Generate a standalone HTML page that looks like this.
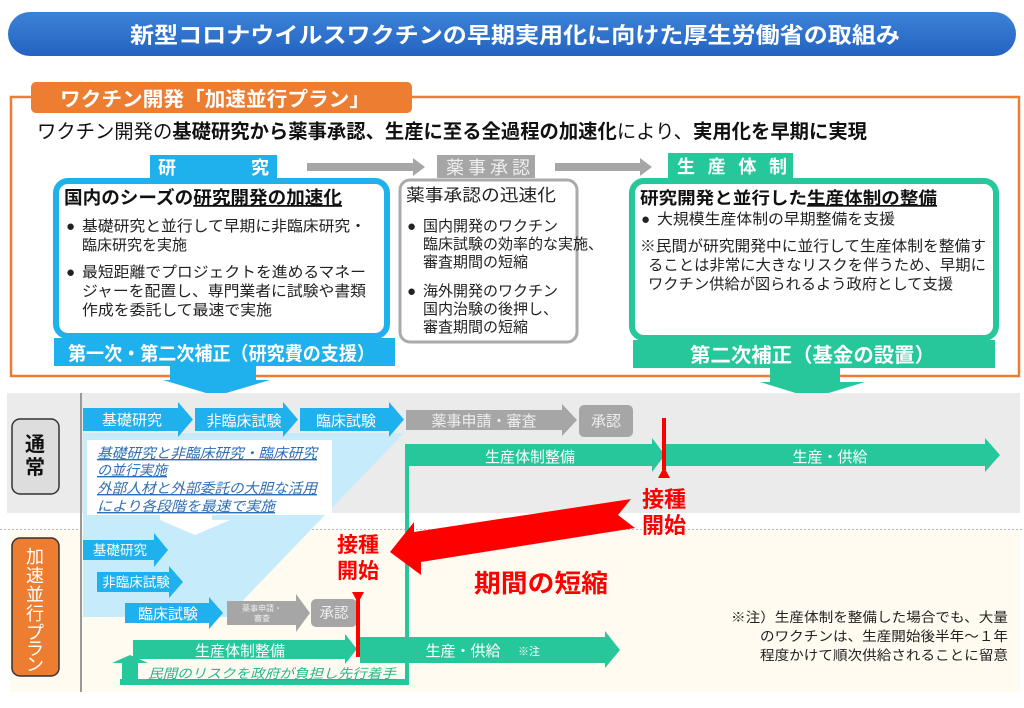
<!DOCTYPE html>
<html><head><meta charset="utf-8"><style>
html,body{margin:0;padding:0;background:#fff;}
svg text{font-family:"Liberation Sans","Noto Sans CJK JP",sans-serif;}
</style></head><body>
<svg width="1024" height="703" viewBox="0 0 1024 703" xmlns="http://www.w3.org/2000/svg">
<defs>
<linearGradient id="tg" x1="0" y1="0" x2="0" y2="1"><stop offset="0" stop-color="#3d82d8"/><stop offset="1" stop-color="#2363c0"/></linearGradient>
</defs>
<rect x="8" y="12" width="1008" height="44" rx="22" fill="url(#tg)"/>
<text x="130" y="43" font-size="22" font-weight="bold" fill="#fff" textLength="770" lengthAdjust="spacingAndGlyphs">新型コロナウイルスワクチンの早期実用化に向けた厚生労働省の取組み</text>

<rect x="11" y="97" width="1008" height="279" fill="none" stroke="#ed7d31" stroke-width="2.5"/>
<rect x="31" y="82" width="381" height="31" rx="5" fill="#ed7d31"/>
<text x="60" y="106" font-size="20" font-weight="bold" fill="#fff" textLength="310" lengthAdjust="spacingAndGlyphs">ワクチン開発「加速並行プラン」</text>
<text x="37" y="138" font-size="19.5" fill="#111" textLength="830" lengthAdjust="spacingAndGlyphs">ワクチン開発の<tspan font-weight="bold">基礎研究から薬事承認、生産に至る全過程の加速化</tspan>により、<tspan font-weight="bold">実用化を早期に実現</tspan></text>

<rect x="150" y="155" width="127" height="23" fill="#1fb0ee"/>
<text x="158" y="174" font-size="18" font-weight="bold" fill="#fff">研</text>
<text x="251" y="174" font-size="18" font-weight="bold" fill="#fff">究</text>
<polygon points="307,163 413,163 413,158 425,167 413,176 413,171 307,171" fill="#a6a6a6"/>
<rect x="437" y="155" width="98" height="23" fill="#a6a6a6"/>
<text x="446" y="174" font-size="18" fill="#eee" textLength="84" lengthAdjust="spacing">薬事承認</text>
<polygon points="555,163 640,163 640,158 652,167 640,176 640,171 555,171" fill="#a6a6a6"/>
<rect x="668" y="153" width="125" height="25" fill="#26c79b"/>
<text x="677" y="173" font-size="18" font-weight="bold" fill="#fff" textLength="110" lengthAdjust="spacing">生産体制</text>

<rect x="56" y="181" width="331" height="155" rx="12" fill="#fff" stroke="#1fb0ee" stroke-width="6"/>
<text x="64" y="204" font-size="18" font-weight="bold" fill="#111" textLength="278" lengthAdjust="spacingAndGlyphs">国内のシーズの<tspan text-decoration="underline">研究開発の加速化</tspan></text>
<g font-size="15" fill="#222">
<text x="66" y="231">●</text>
<text x="82" y="231" textLength="284" lengthAdjust="spacingAndGlyphs">基礎研究と並行して早期に非臨床研究・</text>
<text x="82" y="250">臨床研究を実施</text>
<text x="66" y="277">●</text>
<text x="82" y="277" textLength="284" lengthAdjust="spacingAndGlyphs">最短距離でプロジェクトを進めるマネー</text>
<text x="82" y="296" textLength="284" lengthAdjust="spacingAndGlyphs">ジャーを配置し、専門業者に試験や書類</text>
<text x="82" y="315" textLength="190" lengthAdjust="spacingAndGlyphs">作成を委託して最速で実施</text>
</g>
<rect x="54" y="338" width="341" height="28" fill="#1fb0ee"/>
<text x="68" y="360" font-size="19" font-weight="bold" fill="#fff" textLength="307" lengthAdjust="spacingAndGlyphs">第一次・第二次補正（研究費の支援）</text>
<polygon points="170,366 256,366 256,380 270,380 216,396 163,380 170,380" fill="#1fb0ee"/>

<rect x="400" y="180" width="177" height="162" rx="10" fill="#fff" stroke="#aaa" stroke-width="3"/>
<text x="406" y="201" font-size="17" fill="#222" textLength="150" lengthAdjust="spacingAndGlyphs">薬事承認の迅速化</text>
<g font-size="15" fill="#222">
<text x="407" y="231">●</text>
<text x="423" y="231">国内開発のワクチン</text>
<text x="423" y="249">臨床試験の効率的な実施、</text>
<text x="423" y="267">審査期間の短縮</text>
<text x="407" y="296">●</text>
<text x="423" y="296">海外開発のワクチン</text>
<text x="423" y="314">国内治験の後押し、</text>
<text x="423" y="332">審査期間の短縮</text>
</g>

<rect x="632" y="181" width="364" height="157" rx="12" fill="#fff" stroke="#26c79b" stroke-width="6"/>
<text x="640" y="204" font-size="17" font-weight="bold" fill="#111" textLength="297" lengthAdjust="spacingAndGlyphs">研究開発と並行した<tspan text-decoration="underline">生産体制の整備</tspan></text>
<g font-size="15" fill="#222">
<text x="641" y="224">●</text>
<text x="657" y="224" textLength="238" lengthAdjust="spacingAndGlyphs">大規模生産体制の早期整備を支援</text>
<text x="640" y="251" textLength="346" lengthAdjust="spacingAndGlyphs">※民間が研究開発中に並行して生産体制を整備す</text>
<text x="648" y="270" textLength="338" lengthAdjust="spacingAndGlyphs">ることは非常に大きなリスクを伴うため、早期に</text>
<text x="648" y="289" textLength="305" lengthAdjust="spacingAndGlyphs">ワクチン供給が図られるよう政府として支援</text>
</g>
<rect x="633" y="340" width="362" height="28" fill="#26c79b"/>
<text x="690" y="362" font-size="20" font-weight="bold" fill="#fff" textLength="245" lengthAdjust="spacingAndGlyphs">第二次補正（基金の設置）</text>
<polygon points="770,368 840,368 840,382 865,382 812,398 760,382 770,382" fill="#26c79b"/>

<rect x="7" y="393" width="1013" height="120" fill="#ebebeb"/>
<rect x="10" y="530" width="1010" height="162" fill="#fffbf0"/>
<line x1="0" y1="529.5" x2="1024" y2="529.5" stroke="#bbb" stroke-width="1" stroke-dasharray="2,2"/>
<rect x="80" y="393" width="2" height="299" fill="#999"/>

<rect x="12" y="419" width="47" height="75" rx="8" fill="#ddd" stroke="#333" stroke-width="1.5"/>
<text x="35" y="451" font-size="20" font-weight="bold" fill="#111" text-anchor="middle">通</text>
<text x="35" y="474" font-size="20" font-weight="bold" fill="#111" text-anchor="middle">常</text>
<rect x="12" y="538" width="47" height="138" rx="8" fill="#ed7d31" stroke="#333" stroke-width="1.5"/>
<g font-size="18" fill="#fff" text-anchor="middle">
<text x="35" y="563">加</text><text x="35" y="582">速</text><text x="35" y="601">並</text><text x="35" y="620">行</text>
<text x="35" y="639">プ</text><text x="35" y="655">ラ</text><text x="35" y="671">ン</text>
</g>

<polygon points="83,433 404,433 227,617 83,617" fill="#c6ecfb"/>
<rect x="87" y="440" width="245" height="75" fill="#fff"/>
<polygon points="160,515 212,515 212,520 230,520 195,535 160,520" fill="#fff"/>
<g font-size="14" font-style="italic" fill="#2f6fb5" text-decoration="underline">
<text x="97" y="458" textLength="220" lengthAdjust="spacingAndGlyphs">基礎研究と非臨床研究・臨床研究</text>
<text x="97" y="475">の並行実施</text>
<text x="97" y="493" textLength="220" lengthAdjust="spacingAndGlyphs">外部人材と外部委託の大胆な活用</text>
<text x="97" y="511" textLength="178" lengthAdjust="spacingAndGlyphs">により各段階を最速で実施</text>
</g>

<g fill="#1fb0ee">
<polygon points="83,408 178,408 178,402 193,419.5 178,437 178,431 83,431"/>
<polygon points="195,408 283,408 283,402 298,419.5 283,437 283,431 195,431"/>
<polygon points="300,408 389,408 389,402 404,419.5 389,437 389,431 300,431"/>
</g>
<g font-size="15" fill="#fff" text-anchor="middle">
<text x="132" y="425">基礎研究</text><text x="244" y="426">非臨床試験</text><text x="346" y="426">臨床試験</text>
</g>
<polygon points="406,410 562,410 562,404 577,420 562,436 562,430 406,430" fill="#a6a6a6"/>
<text x="484" y="426" font-size="15" fill="#eee" text-anchor="middle">薬事申請・審査</text>
<rect x="579" y="405" width="54" height="32" rx="5" fill="#a6a6a6"/>
<text x="606" y="426" font-size="15" fill="#eee" text-anchor="middle">承認</text>

<g fill="#26c79b">
<polygon points="405,444 652,444 652,438 665,455 652,472 652,466 405,466"/>
<polygon points="666,444 985,444 985,438 1000,455 985,472 985,466 666,466"/>
<rect x="405" y="444" width="4" height="241"/>
<rect x="120" y="679" width="289" height="6"/>
<rect x="122" y="662" width="16" height="23"/>
<polygon points="112,663 148,663 130,655"/>
</g>
<text x="530" y="462" font-size="15" fill="#fff" text-anchor="middle">生産体制整備</text>
<text x="830" y="462" font-size="15" fill="#fff" text-anchor="middle">生産・供給</text>

<rect x="662" y="418" width="4" height="52" fill="#f00"/>
<polygon points="658,478 670,478 664,467" fill="#f00"/>
<text x="664" y="507" font-size="22" font-weight="bold" fill="#f00" text-anchor="middle">接種</text>
<text x="664" y="533" font-size="22" font-weight="bold" fill="#f00" text-anchor="middle">開始</text>

<polygon points="631,499 414,532 414,522 390,552 421,575 421,562 635,528 618,515" fill="#f00"/>

<g fill="#1fb0ee">
<polygon points="83,540 154,540 154,533 168,550 154,567 154,560 83,560"/>
<polygon points="97,572 169,572 169,566 183,582 169,598 169,592 97,592"/>
<polygon points="125,603 209,603 209,597 223,613 209,629 209,623 125,623"/>
</g>
<g font-size="13.5" fill="#fff" text-anchor="middle">
<text x="120" y="555">基礎研究</text><text x="136" y="587">非臨床試験</text><text x="168" y="619" font-size="15">臨床試験</text>
</g>
<polygon points="227,601 296,601 296,594 310,613 296,632 296,625 227,625" fill="#a6a6a6"/>
<text x="262" y="611" font-size="8" fill="#eee" text-anchor="middle">薬事申請・</text>
<text x="262" y="621" font-size="8" fill="#eee" text-anchor="middle">審査</text>
<rect x="311" y="599" width="46" height="28" rx="5" fill="#a6a6a6"/>
<text x="334" y="618" font-size="14.5" fill="#eee" text-anchor="middle">承認</text>

<g fill="#26c79b">
<polygon points="133,640 345,640 345,634 357,649 345,664 345,659 133,659"/>
<polygon points="360,637 605,637 605,631 620,650 605,668 605,663 360,663"/>
</g>
<text x="240" y="656" font-size="15" fill="#fff" text-anchor="middle">生産体制整備</text>
<text x="463" y="656" font-size="15" fill="#fff" text-anchor="middle">生産・供給</text>
<text x="518" y="655" font-size="11" fill="#fff">※注</text>
<rect x="356" y="597" width="4" height="60" fill="#f00"/>
<polygon points="352,592 364,592 358,603" fill="#f00"/>
<text x="358" y="552" font-size="21" font-weight="bold" fill="#f00" text-anchor="middle">接種</text>
<text x="358" y="578" font-size="21" font-weight="bold" fill="#f00" text-anchor="middle">開始</text>
<text x="148" y="678" font-size="13" font-style="italic" fill="#26b58f" text-decoration="underline" textLength="248" lengthAdjust="spacingAndGlyphs">民間のリスクを政府が負担し先行着手</text>

<text x="474" y="592" font-size="25" font-weight="bold" fill="#f00" textLength="134" lengthAdjust="spacingAndGlyphs">期間の短縮</text>

<g font-size="13.5" fill="#222">
<text x="731" y="622" textLength="277" lengthAdjust="spacingAndGlyphs">※注）生産体制を整備した場合でも、大量</text>
<text x="760" y="641" textLength="248" lengthAdjust="spacingAndGlyphs">のワクチンは、生産開始後半年～１年</text>
<text x="760" y="660" textLength="248" lengthAdjust="spacingAndGlyphs">程度かけて順次供給されることに留意</text>
</g>
</svg>
</body></html>
